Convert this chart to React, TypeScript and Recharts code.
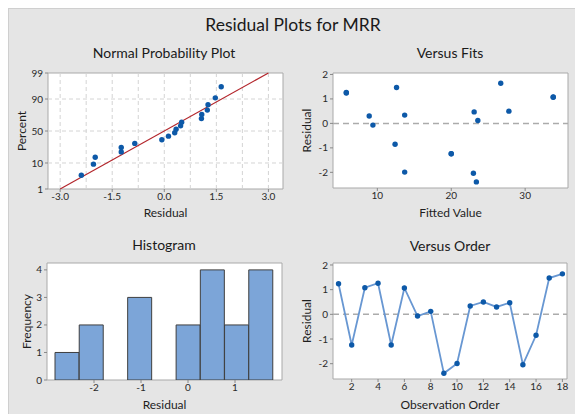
import React from 'react';
import {
  ScatterChart, LineChart, ComposedChart, Scatter, Line, Bar,
  XAxis, YAxis, ReferenceLine, ReferenceArea, Label,
} from 'recharts';

// run order 1..18
const observations = [1, 2, 3, 4, 5, 6, 7, 8, 9, 10, 11, 12, 13, 14, 15, 16, 17, 18];
const residuals = [1.24, -1.24, 1.08, 1.26, -1.24, 1.07, -0.07, 0.12, -2.39, -1.99, 0.34, 0.5, 0.3, 0.47, -2.04, -0.85, 1.47, 1.64];
const fittedValues = [5.8, 20.0, 33.8, 5.8, 20.0, 33.8, 9.4, 23.6, 23.4, 13.7, 13.7, 27.8, 8.9, 23.1, 23.0, 12.4, 12.6, 26.7];

// normal probability plot (percent for each sorted residual)
const probPercents = [3.8, 9.2, 14.7, 20.1, 25.5, 31.0, 36.4, 41.8, 47.3, 52.7, 58.2, 63.6, 69.0, 74.5, 79.9, 85.3, 90.8, 96.2];
const percentTicks = [1, 10, 50, 90, 99];
const residualTicks = [-3, -1.5, 0, 1.5, 3];
const probGridResiduals = [-3, -2.25, -1.5, -0.75, 0, 0.75, 1.5, 2.25, 3];
const probGridPercents = [10, 50, 90];
const fitLineResidual = [-3.0, 3.0];
const fitLinePercent = [1, 99];

// histogram
const binCenters = [-2.58, -2.06, -1.55, -1.03, -0.52, 0, 0.52, 1.03, 1.55];
const frequencies = [1, 2, 0, 3, 0, 2, 4, 2, 4];
const histTicks = [-2, -1, 0, 1];
const freqTicks = [0, 1, 2, 3, 4];

const fitTicks = [10, 20, 30];
const residTicks = [-2, -1, 0, 1, 2];
const orderTicks = [2, 4, 6, 8, 10, 12, 14, 16, 18];

const FONT = 'Lato, "Open Sans", sans-serif';
const DOT = '#0d59a8';
const BORDER = '#a9a9a9';
const tickText = { fill: '#2a2a2a', fontSize: 10, fontFamily: FONT };
const labelStyle = { fill: '#1e1e1e', fontSize: 12, fontFamily: FONT, textAnchor: 'middle' as const };

// inverse normal cdf (Winitzki approximation) for the probability axis
function probit(p: number) {
  const x = 2 * p - 1;
  const a = 0.147;
  const ln = Math.log(1 - x * x);
  const t = 2 / (Math.PI * a) + ln / 2;
  return Math.SQRT2 * Math.sign(x) * Math.sqrt(Math.sqrt(t * t - ln / a) - t);
}

const sortedResiduals = [...residuals].sort((a, b) => a - b);
const probData = sortedResiduals.map((r, i) => ({ x: r, y: probit(probPercents[i] / 100) }));
const fitsData = residuals.map((r, i) => ({ x: fittedValues[i], y: r }));
const orderData = observations.map((o, i) => ({ obs: o, residual: residuals[i] }));
const bins = binCenters.map((c, i) => ({ center: c, count: frequencies[i] }));

const Dot = (p: any) => <circle cx={p.cx} cy={p.cy} r={2.7} fill={DOT} />;

function Title({ text, cx, cy, size }: { text: string; cx: number; cy: number; size: number }) {
  const lh = size + 6;
  return (
    <div style={{
      position: 'absolute', left: cx - 150, top: cy - lh / 2 - 0.5, width: 300, textAlign: 'center',
      fontFamily: FONT, fontSize: size, lineHeight: lh + 'px', color: '#1a1a1a',
    }}>{text}</div>
  );
}

const pos = (left: number, top: number): React.CSSProperties => ({ position: 'absolute', left, top });

export default function App() {
  const zMin = probit(0.01);
  const zMax = probit(0.99);
  return (
    <div style={{ position: 'fixed', left: 0, top: 0, width: 575, height: 414, background: '#fff', overflow: 'hidden' }}>
      <div style={{
        position: 'absolute', left: 8, top: 8, width: 567, height: 406, background: '#e5e5e5',
        borderTop: '1px solid #cfcfcf', borderLeft: '1px solid #cfcfcf', boxSizing: 'border-box',
      }} />

      <Title text="Residual Plots for MRR" cx={293} cy={25} size={17.5} />
      <Title text="Normal Probability Plot" cx={164} cy={53} size={14} />
      <Title text="Versus Fits" cx={450} cy={53} size={14} />
      <Title text="Histogram" cx={164} cy={245} size={14} />
      <Title text="Versus Order" cx={450} cy={246} size={14} />

      {/* Normal probability plot */}
      <div style={pos(0, 40)}>
        <ScatterChart width={290} height={185} margin={{ top: 33, right: 7, bottom: 0, left: 0 }}>
          <XAxis type="number" dataKey="x" domain={[-3.35, 3.42]} ticks={residualTicks} allowDataOverflow
            tickFormatter={(v: number) => v.toFixed(1)} axisLine={false} tickLine={{ stroke: '#888' }}
            tickSize={3} tickMargin={1} tick={tickText} height={36}>
            <Label value="Residual" position="insideBottom" offset={8} style={labelStyle} />
          </XAxis>
          <YAxis type="number" dataKey="y" domain={[zMin, zMax]} allowDataOverflow
            ticks={percentTicks.map((p) => probit(p / 100))}
            tickFormatter={(_v: number, i: number) => String(percentTicks[i])}
            axisLine={false} tickLine={{ stroke: '#888' }} tickSize={3} tick={tickText} width={48}>
            <Label value="Percent" angle={-90} position="insideLeft" offset={22} style={labelStyle} />
          </YAxis>
          <ReferenceArea x1={-3.35} x2={3.42} y1={zMin} y2={zMax} fill="#fff" fillOpacity={1} stroke={BORDER} />
          {probGridResiduals.map((v) => (
            <ReferenceLine key={'gx' + v} x={v} stroke="#d4d4d4" strokeDasharray="4 3" />
          ))}
          {probGridPercents.map((p) => (
            <ReferenceLine key={'gy' + p} y={probit(p / 100)} stroke="#d4d4d4" strokeDasharray="4 3" />
          ))}
          <ReferenceLine
            segment={[
              { x: fitLineResidual[0], y: probit(fitLinePercent[0] / 100) },
              { x: fitLineResidual[1], y: probit(fitLinePercent[1] / 100) },
            ]}
            stroke="#b3262c" strokeWidth={1.2}
          />
          <Scatter data={probData} shape={Dot} isAnimationActive={false} />
        </ScatterChart>
      </div>

      {/* Versus fits */}
      <div style={pos(290, 40)}>
        <ScatterChart width={285} height={185} margin={{ top: 33, right: 7, bottom: 0, left: 0 }}>
          <XAxis type="number" dataKey="x" domain={[4, 35.8]} ticks={fitTicks} allowDataOverflow
            axisLine={false} tickLine={{ stroke: '#888' }} tickSize={3} tickMargin={1} tick={tickText} height={37}>
            <Label value="Fitted Value" position="insideBottom" offset={8} style={labelStyle} />
          </XAxis>
          <YAxis type="number" dataKey="y" domain={[-2.64, 2.06]} ticks={residTicks} allowDataOverflow
            axisLine={false} tickLine={{ stroke: '#888' }} tickSize={3} tick={tickText} width={43}>
            <Label value="Residual" angle={-90} position="insideLeft" offset={17} style={labelStyle} />
          </YAxis>
          <ReferenceArea x1={4} x2={35.8} y1={-2.64} y2={2.06} fill="#fff" fillOpacity={1} stroke={BORDER} />
          <ReferenceLine y={0} stroke="#ababab" strokeWidth={1.5} strokeDasharray="6 4" />
          <Scatter data={fitsData} shape={Dot} isAnimationActive={false} />
        </ScatterChart>
      </div>

      {/* Histogram */}
      <div style={pos(0, 230)}>
        <ComposedChart width={290} height={184} data={bins} barCategoryGap={0} barGap={0}
          margin={{ top: 33, right: 8, bottom: 0, left: 0 }}>
          <XAxis xAxisId="res" dataKey="center" type="number" domain={[-3, 2]} ticks={histTicks} allowDataOverflow
            axisLine={false} tickLine={{ stroke: '#888' }} tickSize={3} tickMargin={1} tick={tickText} height={34}>
            <Label value="Residual" position="insideBottom" offset={5} style={labelStyle} />
          </XAxis>
          <XAxis xAxisId="bins" dataKey="center" type="category" hide height={0} padding={{ left: 8, right: 9 }} />
          <YAxis domain={[0, 4.25]} ticks={freqTicks} allowDataOverflow
            axisLine={false} tickLine={{ stroke: '#888' }} tickSize={3} tick={tickText} width={47}>
            <Label value="Frequency" angle={-90} position="insideLeft" offset={27} style={labelStyle} />
          </YAxis>
          <ReferenceArea xAxisId="res" x1={-3} x2={2} y1={0} y2={4.25} fill="#fff" fillOpacity={1} stroke={BORDER} />
          <Bar xAxisId="bins" dataKey="count" fill="#7ca5d8" stroke="#3f3f3f" strokeWidth={1} isAnimationActive={false} />
        </ComposedChart>
      </div>

      {/* Versus order */}
      <div style={pos(290, 230)}>
        <LineChart width={285} height={184} data={orderData} margin={{ top: 33, right: 8, bottom: 0, left: 0 }}>
          <XAxis type="number" dataKey="obs" domain={[0.58, 18.35]} ticks={orderTicks} allowDataOverflow
            axisLine={false} tickLine={{ stroke: '#888' }} tickSize={3} tickMargin={1} tick={tickText} height={35}>
            <Label value="Observation Order" position="insideBottom" offset={5} style={labelStyle} />
          </XAxis>
          <YAxis domain={[-2.62, 2.08]} ticks={residTicks} allowDataOverflow
            axisLine={false} tickLine={{ stroke: '#888' }} tickSize={3} tick={tickText} width={43}>
            <Label value="Residual" angle={-90} position="insideLeft" offset={17} style={labelStyle} />
          </YAxis>
          <ReferenceArea x1={0.58} x2={18.35} y1={-2.62} y2={2.08} fill="#fff" fillOpacity={1} stroke={BORDER} />
          <ReferenceLine y={0} stroke="#ababab" strokeWidth={1.5} strokeDasharray="6 4" />
          <Line dataKey="residual" stroke="#6897d2" strokeWidth={1.8} isAnimationActive={false}
            dot={(p: any) => <circle key={p.index} cx={p.cx} cy={p.cy} r={2.7} fill={DOT} />} activeDot={false} />
        </LineChart>
      </div>
    </div>
  );
}
